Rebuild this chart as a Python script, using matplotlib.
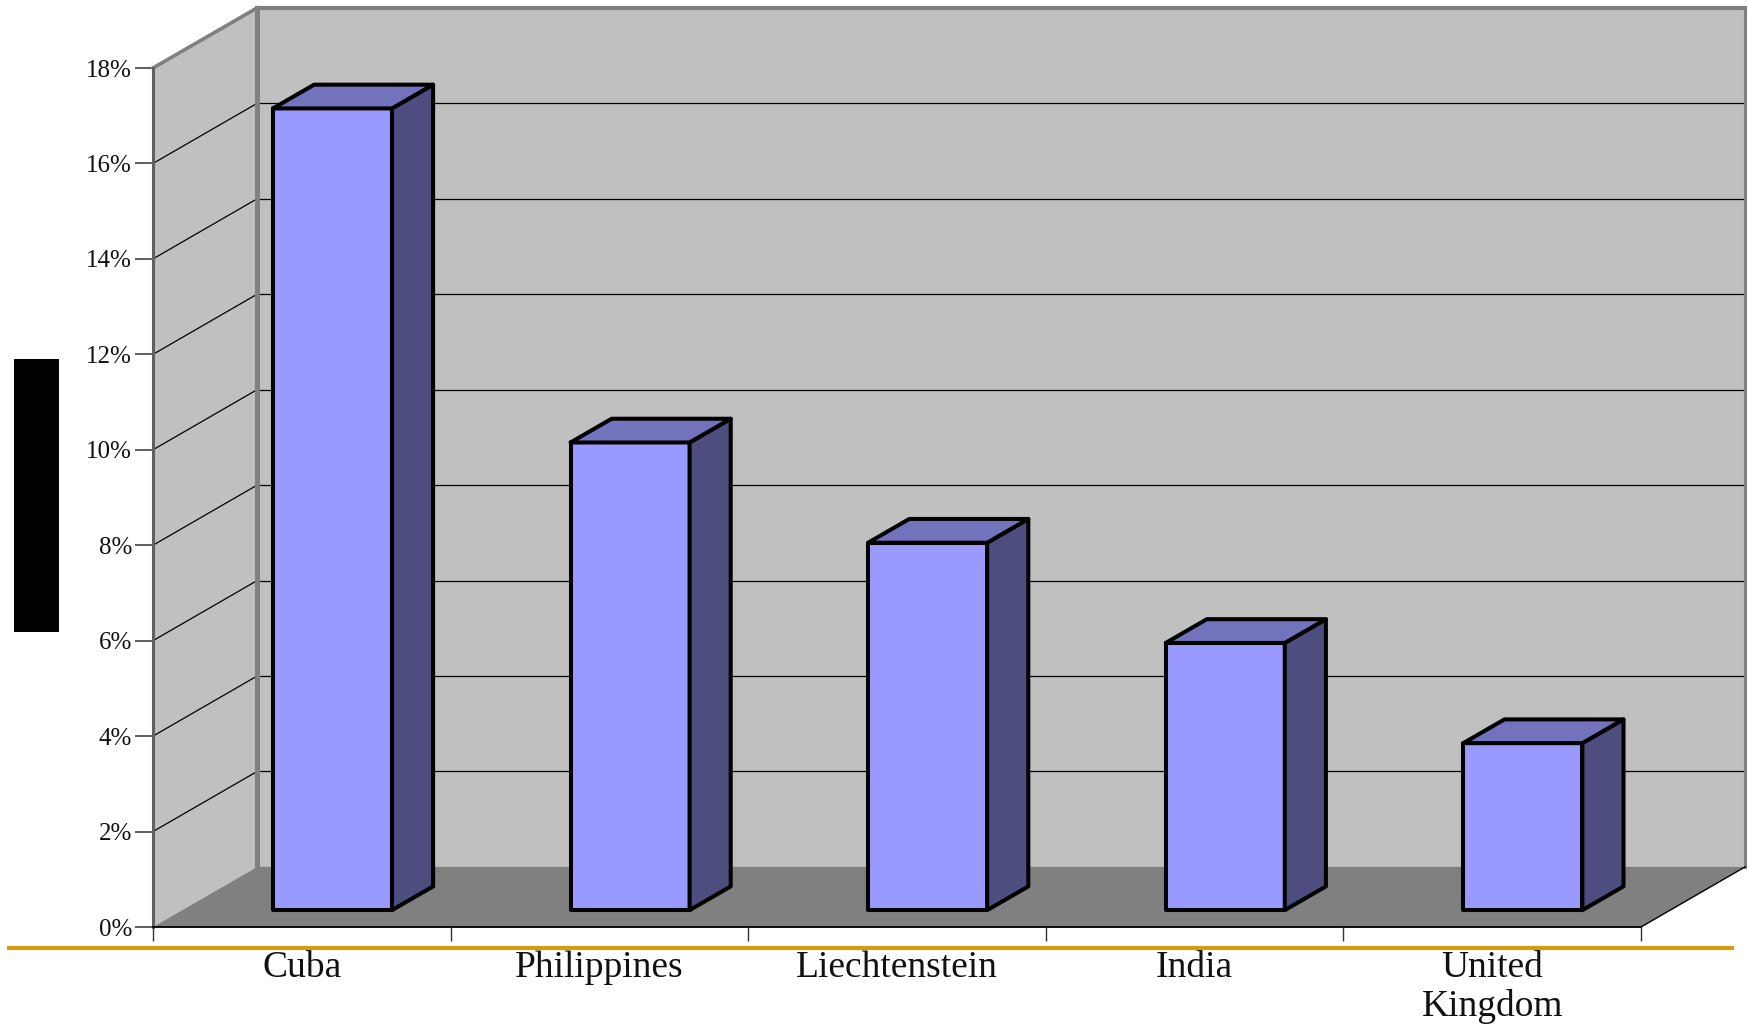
import matplotlib
matplotlib.use("Agg")
import matplotlib.pyplot as plt
from matplotlib.lines import Line2D
from matplotlib.patches import Polygon, Rectangle

plt.rcParams['font.family'] = ['Liberation Serif', 'DejaVu Serif']

# --- chart data
countries = ["Cuba", "Philippines", "Liechtenstein", "India", "United\nKingdom"]
shares = [16.8, 9.8, 7.7, 5.6, 3.5]
y_ticks = [0, 2, 4, 6, 8, 10, 12, 14, 16, 18]
y_labels = ["0%", "2%", "4%", "6%", "8%", "10%", "12%", "14%", "16%", "18%"]

# --- 3D look: how far the back wall is shifted, in data units
DEPTH_X = 0.35
DEPTH_Y = 1.26
BAR_WIDTH = 0.40
BAR_FRONT = 0.28
BAR_BACK = 0.675

W, H = 1749, 1025
fig = plt.figure(figsize=(W / 100, H / 100), dpi=100, facecolor="white")
ax = fig.add_axes([153 / W, (H - 927) / H, (1641 - 153) / W, (927 - 68) / H])
ax.set_xlim(0, len(countries))
ax.set_ylim(0, 18)
ax.patch.set_visible(False)
for s in ax.spines.values():
    s.set_visible(False)


def pr(x, y, d=0.0):
    # shift a point back into the box
    return (x + d * DEPTH_X, y + d * DEPTH_Y)


def face(pts, color, z, ec="none", lw=0):
    ax.add_patch(Polygon(pts, closed=True, facecolor=color, edgecolor=ec, linewidth=lw,
                         joinstyle="round", zorder=z, clip_on=False))


def seg(a, b, color, lw, z):
    ax.plot([a[0], b[0]], [a[1], b[1]], color=color, lw=lw, zorder=z, clip_on=False,
            solid_capstyle="projecting")


xmax = len(countries)
ymax = y_ticks[-1]

# --- walls and floor
face([pr(0, 0, 1), pr(xmax, 0, 1), pr(xmax, ymax, 1), pr(0, ymax, 1)], "#C0C0C0", 1)
face([pr(0, 0), pr(0, 0, 1), pr(0, ymax, 1), pr(0, ymax)], "#C0C0C0", 1)
face([pr(0, 0), pr(xmax, 0), pr(xmax, 0, 1), pr(0, 0, 1)], "#808080", 1.5)

# --- gridlines on both walls
for v in y_ticks[1:-1]:
    seg(pr(0, v), pr(0, v, 1), "black", 0.9, 2)
    seg(pr(0, v, 1), pr(xmax, v, 1), "black", 0.9, 2)

# --- wall borders
gray = "#808080"
seg(pr(0, ymax, 1), pr(xmax, ymax, 1), gray, 3.0, 3)
seg(pr(0, 0, 1), pr(0, ymax, 1), gray, 3.6, 3)
seg(pr(0, ymax), pr(0, ymax, 1), gray, 2.6, 3)
seg(pr(xmax, 0, 1), pr(xmax, ymax, 1), gray, 2.2, 3)
seg(pr(0, 0), pr(0, ymax), "#606060", 2.2, 3)
seg(pr(0, 0), pr(xmax, 0), "black", 1.3, 4)
seg(pr(xmax, 0), pr(xmax, 0, 1), "black", 1.0, 4)

# --- bars
for i, val in enumerate(shares):
    x0 = i + 0.5 - BAR_WIDTH / 2 + 0.005
    x1 = x0 + BAR_WIDTH
    edge = dict(ec="black", lw=2.9)
    face([pr(x0, 0, BAR_FRONT), pr(x1, 0, BAR_FRONT), pr(x1, val, BAR_FRONT), pr(x0, val, BAR_FRONT)],
         "#9999FF", 5, **edge)
    face([pr(x1, 0, BAR_FRONT), pr(x1, 0, BAR_BACK), pr(x1, val, BAR_BACK), pr(x1, val, BAR_FRONT)],
         "#4D4D80", 5, **edge)
    face([pr(x0, val, BAR_FRONT), pr(x1, val, BAR_FRONT), pr(x1, val, BAR_BACK), pr(x0, val, BAR_BACK)],
         "#7373BD", 5, **edge)

# --- axes ticks and labels
ax.set_yticks(y_ticks)
ax.set_yticklabels(y_labels, fontsize=18, color="#111111")
ax.tick_params(axis="y", length=13, width=1.1, color="#333333", pad=2)

ax.set_xticks(range(xmax + 1))
ax.set_xticklabels([])
ax.tick_params(axis="x", which="major", length=10, width=1.0, color="#333333")
ax.set_xticks([i + 0.5 for i in range(xmax)], minor=True)
ax.set_xticklabels(countries, minor=True, fontsize=27, color="#111111", linespacing=1.15)
ax.tick_params(axis="x", which="minor", length=0, pad=17)

# --- gold rule and black block outside the axes
fig.add_artist(Line2D([7 / W, 1734 / W], [(H - 948) / H] * 2, color="#D09E0E", lw=3.0,
                      solid_capstyle="butt"))
fig.add_artist(Rectangle((14 / W, (H - 632) / H), 45 / W, 273 / H, facecolor="black",
                         edgecolor="none", transform=fig.transFigure))

fig.savefig("out.png", dpi=100, facecolor="white")
